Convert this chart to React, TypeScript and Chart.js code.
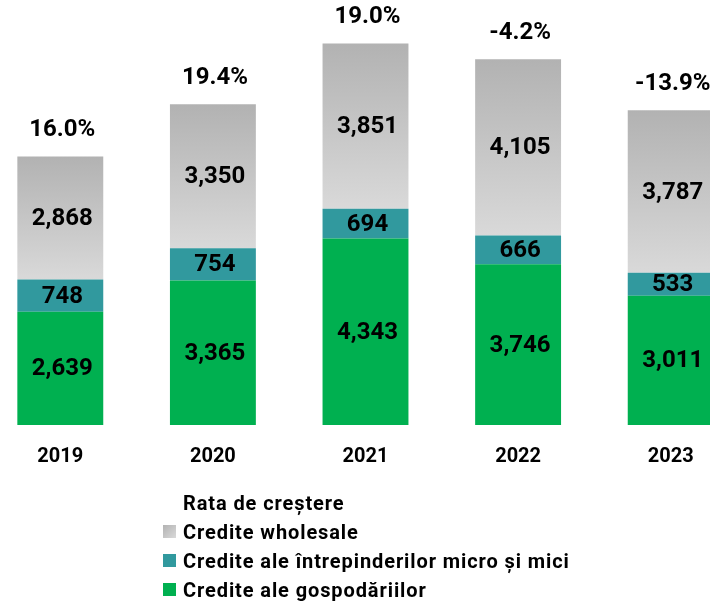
import React, { useEffect, useRef } from "react";
import { Chart, registerables } from "chart.js";
Chart.register(...registerables);

const years = ["2019", "2020", "2021", "2022", "2023"];
const households = [2639, 3365, 4343, 3746, 3011];
const microSmall = [748, 754, 694, 666, 533];
const wholesale = [2868, 3350, 3851, 4105, 3787];
const growth = ["16.0%", "19.4%", "19.0%", "-4.2%", "-13.9%"];
const legendTitle = "Rata de creștere";
const seriesNames = [
  "Credite wholesale",
  "Credite ale întrepinderilor micro și mici",
  "Credite ale gospodăriilor",
];

const FONT = "Roboto, 'Noto Sans', sans-serif";
const GREEN = "#00B050";
const TEAL = "#31999E";
const GRAY_TOP = "#B2B2B2";
const GRAY_BOTTOM = "#D9D9D9";

const labelPlugin = {
  id: "segmentLabels",
  afterDatasetsDraw(chart: any) {
    const ctx = chart.ctx;
    ctx.save();
    ctx.font = `bold 24px ${FONT}`;
    ctx.fillStyle = "#000";
    ctx.textAlign = "center";
    ctx.textBaseline = "middle";
    chart.data.datasets.forEach((ds: any, i: number) => {
      const meta = chart.getDatasetMeta(i);
      meta.data.forEach((bar: any, j: number) => {
        const v = ds.data[j] as number;
        ctx.fillText(v.toLocaleString("en-US"), bar.x + 2, (bar.y + bar.base) / 2 + 1);
      });
    });
    const last = chart.getDatasetMeta(chart.data.datasets.length - 1);
    last.data.forEach((bar: any, j: number) => {
      ctx.fillText(growth[j], bar.x + 2, bar.y - 26);
    });
    ctx.restore();
  },
};

export default function App() {
  const ref = useRef<HTMLCanvasElement | null>(null);
  useEffect(() => {
    document.body.style.margin = "0";
    const canvas = ref.current;
    if (!canvas) return;
    const chart = new Chart(canvas, {
      type: "bar",
      data: {
        labels: years,
        datasets: [
          { label: seriesNames[2], data: households, backgroundColor: GREEN },
          { label: seriesNames[1], data: microSmall, backgroundColor: TEAL },
          {
            label: seriesNames[0],
            data: wholesale,
            backgroundColor: (c: any) => {
              const ch = c.chart;
              const y = ch.scales && ch.scales.y;
              const i = c.dataIndex;
              if (!y || i === undefined) return "#C6C6C6";
              const top = y.getPixelForValue(households[i] + microSmall[i] + wholesale[i]);
              const bot = y.getPixelForValue(households[i] + microSmall[i]);
              if (!isFinite(top) || !isFinite(bot) || top === bot) return "#C6C6C6";
              const g = ch.ctx.createLinearGradient(0, top, 0, bot);
              g.addColorStop(0, GRAY_TOP);
              g.addColorStop(1, GRAY_BOTTOM);
              return g;
            },
          },
        ],
      },
      options: {
        responsive: false,
        animation: false,
        layout: { padding: 0 },
        plugins: { legend: { display: false }, tooltip: { enabled: false } },
        datasets: { bar: { barPercentage: 1, categoryPercentage: 0.563 } },
        scales: {
          x: {
            stacked: true,
            grid: { display: false, drawTicks: false },
            border: { display: false },
            ticks: {
              color: "#000",
              font: { family: FONT, size: 20, weight: "bold" },
              padding: 20,
            },
          },
          y: {
            stacked: true,
            display: false,
            min: 0,
            max: 9900,
          },
        },
      },
      plugins: [labelPlugin],
    });
    return () => chart.destroy();
  }, []);

  const rowStyle: React.CSSProperties = {
    display: "flex",
    alignItems: "center",
    height: 29,
    whiteSpace: "nowrap",
  };
  const markerBase: React.CSSProperties = {
    width: 13,
    height: 13,
    marginRight: 7,
    flex: "0 0 auto",
  };
  const markers = [
    `linear-gradient(135deg, ${GRAY_TOP}, ${GRAY_BOTTOM})`,
    TEAL,
    GREEN,
  ];

  return (
    <div
      style={{
        position: "relative",
        width: 710,
        height: 601,
        overflow: "hidden",
        background: "#fff",
      }}
    >
      <canvas
        ref={ref}
        width={763}
        height={489}
        style={{ position: "absolute", left: -16, top: 0, width: 763, height: 489 }}
      />
      <div
        style={{
          position: "absolute",
          left: 163,
          top: 488,
          fontFamily: FONT,
          fontWeight: "bold",
          fontSize: 20,
          letterSpacing: "0.9px",
          color: "#000",
        }}
      >
        <div style={rowStyle}>
          <span style={{ ...markerBase, background: "transparent" }} />
          <span>{legendTitle}</span>
        </div>
        {seriesNames.map((name, k) => (
          <div key={name} style={rowStyle}>
            <span style={{ ...markerBase, background: markers[k] }} />
            <span>{name}</span>
          </div>
        ))}
      </div>
    </div>
  );
}
